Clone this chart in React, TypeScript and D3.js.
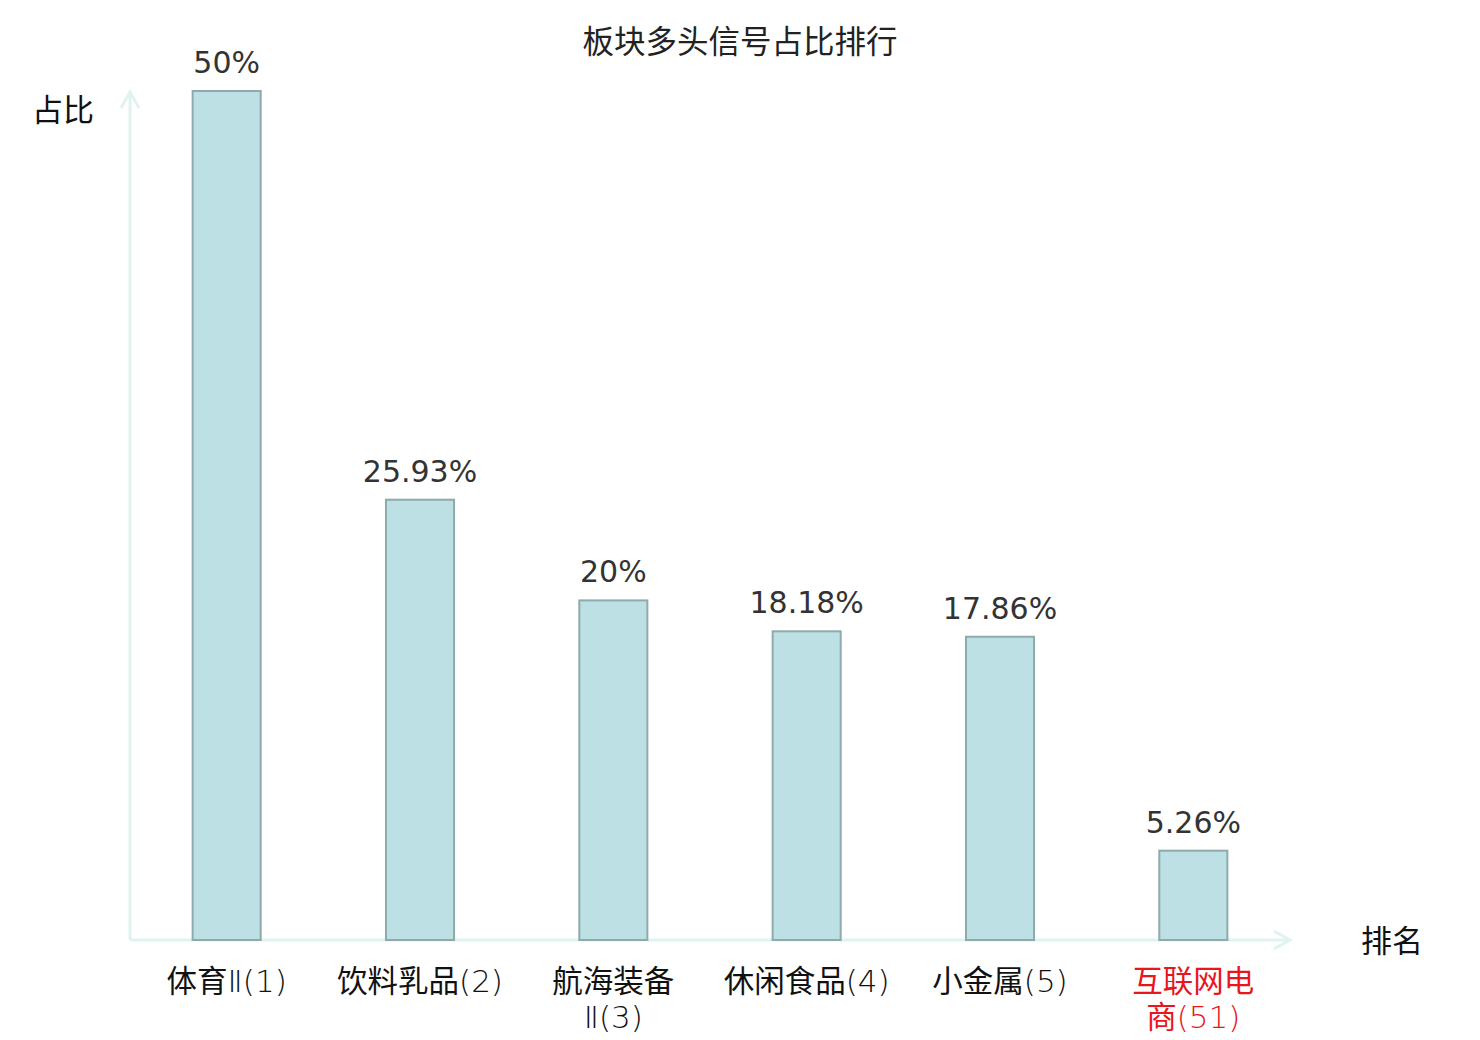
import React from 'react'
import * as d3 from 'd3'

const categories = ['体育Ⅱ(1)', '饮料乳品(2)', '航海装备Ⅱ(3)', '休闲食品(4)', '小金属(5)', '互联网电商(51)']
const values = [50, 25.93, 20, 18.18, 17.86, 5.26]
const valueLabels = ['50%', '25.93%', '20%', '18.18%', '17.86%', '5.26%']
const highlighted = ['互联网电商(51)']

const W = 1480
const H = 1040
const x0 = 130
const x1 = 1290
const yBase = 940
const yTop = 91

const CJK = '"Noto Sans CJK SC", "Noto Sans", sans-serif'
const LATIN = '"DejaVu Sans", sans-serif'

// split long labels after 4 characters
function wrapLabel(s: string): string[] {
  const chars = Array.from(s)
  if (chars.length <= 7) return [s]
  return [chars.slice(0, 4).join(''), chars.slice(4).join('')]
}

// runs of han characters vs the rest (numerals, brackets)
function runs(s: string): { t: string; han: boolean }[] {
  const out: { t: string; han: boolean }[] = []
  for (const ch of Array.from(s)) {
    const han = /[\u4e00-\u9fff]/.test(ch)
    const last = out[out.length - 1]
    if (last && last.han === han) last.t += ch
    else out.push({ t: ch, han })
  }
  return out
}

export default function App() {
  const x = d3.scaleBand<string>().domain(categories).range([x0, x1]).paddingInner(0.648).paddingOuter(0.324)
  const y = d3.scaleLinear().domain([0, 50]).range([yBase, yTop])
  const axisColor = '#e0f3f1'
  const lineGap = 36

  return (
    <svg width={W} height={H} style={{ position: 'absolute', left: 0, top: 0 }}>
      <rect width={W} height={H} fill="#fff" />
      <text x={740} y={53} textAnchor="middle" fontFamily={CJK} fontSize={31.5} fill="#222">
        板块多头信号占比排行
      </text>

      {/* axes */}
      <line x1={x0} y1={yBase} x2={x0} y2={92} stroke={axisColor} strokeWidth={3} />
      <polyline points={`${x0 - 9},${108} ${x0},${92} ${x0 + 9},${108}`} fill="none" stroke={axisColor} strokeWidth={3} />
      <line x1={x0} y1={yBase} x2={x1} y2={yBase} stroke={axisColor} strokeWidth={3} />
      <polyline points={`${x1 - 16},${yBase - 9} ${x1},${yBase} ${x1 - 16},${yBase + 9}`} fill="none" stroke={axisColor} strokeWidth={3} />

      <text x={63} y={121} textAnchor="middle" fontFamily={CJK} fontSize={31} fill="#111">占比</text>
      <text x={1392} y={952} textAnchor="middle" fontFamily={CJK} fontSize={31} fill="#111">排名</text>

      {categories.map((c, i) => {
        const bx = x(c)!
        const bw = x.bandwidth()
        const cx = bx + bw / 2
        const red = highlighted.includes(c)
        const lines = wrapLabel(c)
        return (
          <g key={c}>
            <rect x={bx} y={y(values[i])} width={bw} height={yBase - y(values[i])} fill="#bce0e3" stroke="#8eaaab" strokeWidth={2} />
            <text x={cx} y={y(values[i]) - 18} textAnchor="middle" fontFamily={LATIN} fontSize={30} fill="#333">
              {valueLabels[i]}
            </text>
            <text x={cx} y={992} textAnchor="middle" fontFamily={CJK} fontSize={30.5} fill={red ? '#e8161d' : '#111'}>
              {lines.map((l, j) =>
                runs(l).map((r, k) => {
                  const pos = k === 0 ? { x: cx, y: 992 + j * lineGap } : {}
                  return r.han ? (
                    <tspan key={`${j}-${k}`} {...pos}>{r.t}</tspan>
                  ) : (
                    <tspan key={`${j}-${k}`} {...pos} fontFamily={LATIN} fontWeight={200} fontSize={31}>{r.t}</tspan>
                  )
                })
              )}
            </text>
          </g>
        )
      })}
    </svg>
  )
}
